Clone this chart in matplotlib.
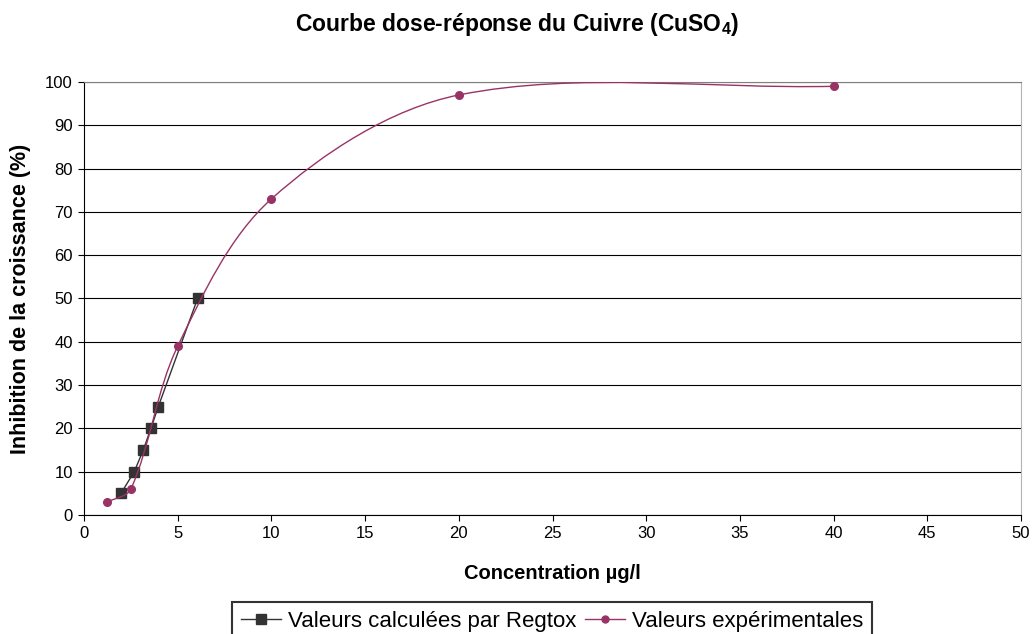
import numpy as np
from matplotlib import pyplot as plt
from matplotlib.path import Path
from matplotlib.patches import PathPatch
from matplotlib.lines import Line2D

plt.rcParams["font.family"] = ["Liberation Sans", "DejaVu Sans"]
plt.rcParams["mathtext.fontset"] = "custom"
plt.rcParams["mathtext.bf"] = "Liberation Sans:bold"
plt.rcParams["mathtext.rm"] = "Liberation Sans"

# Regtox computed values
regtox_conc = [1.97, 2.68, 3.16, 3.57, 3.96, 6.06]
regtox_inhib = [5, 10, 15, 20, 25, 50]

# experimental values
exp_conc = [1.25, 2.5, 5, 10, 20, 40]
exp_inhib = [3, 6, 39, 73, 97, 99]

exp_color = "#993366"
regtox_color = "#333333"


def smooth_path(ax, xs, ys):
    # Excel-like smoothed line, control points worked out in screen space
    pts = ax.transData.transform(np.column_stack([xs, ys]).astype(float))
    n = len(pts)
    verts = [pts[0]]
    codes = [Path.MOVETO]
    for i in range(n - 1):
        p0 = pts[i - 1] if i > 0 else pts[i]
        p1 = pts[i]
        p2 = pts[i + 1]
        p3 = pts[i + 2] if i + 2 < n else pts[i + 1]
        d01 = np.hypot(*(p1 - p0))
        d12 = np.hypot(*(p2 - p1))
        d23 = np.hypot(*(p3 - p2))
        c1 = p1 + (p2 - p0) * d12 / (d01 + d12) / 3
        c2 = p2 - (p3 - p1) * d12 / (d12 + d23) / 3
        verts += [c1, c2, p2]
        codes += [Path.CURVE4] * 3
    verts = ax.transData.inverted().transform(np.array(verts))
    return Path(verts, codes)


fig = plt.figure(figsize=(10.35, 6.34), dpi=100)
ax = fig.add_axes([0.0812, 0.1877, 0.9053, 0.683])

ax.set_xlim(0, 50)
ax.set_ylim(0, 100)
ax.set_xticks(np.arange(0, 51, 5))
ax.set_yticks(np.arange(0, 101, 10))
ax.yaxis.grid(True, color="black", linewidth=0.8)
ax.set_axisbelow(True)
ax.tick_params(labelsize=12, length=4, width=0.8, direction="out", pad=4)
ax.spines["top"].set_color("#808080")
ax.spines["right"].set_color("#b4b4b4")
for side in ["left", "bottom"]:
    ax.spines[side].set_color("black")

# regtox: straight segments with squares
ax.plot(regtox_conc, regtox_inhib, color=regtox_color, linewidth=1,
        marker="s", markersize=6.5, markerfacecolor=regtox_color,
        markeredgecolor=regtox_color, zorder=3)

# experimental: smoothed line with round markers
ax.add_patch(PathPatch(smooth_path(ax, exp_conc, exp_inhib), facecolor="none",
                       edgecolor=exp_color, linewidth=1, zorder=3))
ax.plot(exp_conc, exp_inhib, linestyle="none", marker="o", markersize=5.5,
        color=exp_color, zorder=4)

ax.set_xlabel("Concentration µg/l", fontsize=14.5, fontweight="bold", va="center")
ax.xaxis.set_label_coords(0.5, -0.136)
ax.set_ylabel("Inhibition de la croissance (%)", fontsize=15.5,
              fontweight="bold", va="center")
ax.yaxis.set_label_coords(-0.068, 0.5)

fig.text(0.5, 0.962, r"Courbe dose-réponse du Cuivre (CuSO$_\mathbf{4}$)",
         ha="center", va="center", fontsize=16.5, fontweight="bold")

handles = [
    Line2D([], [], color=regtox_color, marker="s", markersize=6.5, linewidth=1),
    Line2D([], [], color=exp_color, marker="o", markersize=5, linewidth=1),
]
leg = fig.legend(handles, ["Valeurs calculées par Regtox", "Valeurs expérimentales"],
                 loc="upper center", bbox_to_anchor=(0.5335, 0.0505), ncol=2,
                 fontsize=16, frameon=True, fancybox=False, handlelength=1.8,
                 handletextpad=0.3, columnspacing=0.4, borderpad=0.4,
                 borderaxespad=0)
leg.get_frame().set_edgecolor("black")
leg.get_frame().set_linewidth(1.5)

fig.savefig("out.png", dpi=100)
